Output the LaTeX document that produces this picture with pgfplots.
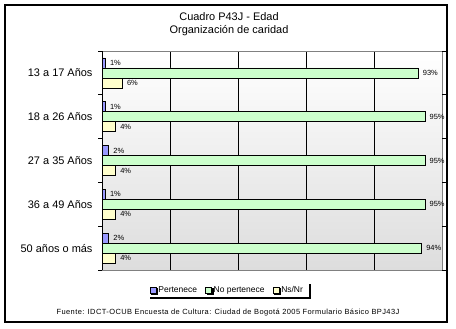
\documentclass[border=0pt]{standalone}
\usepackage{pgfplots}
\pgfplotsset{compat=1.18}
\usepackage{fontspec}
\setmainfont{Liberation Sans}
\usetikzlibrary{shadows}
\definecolor{cblue}{RGB}{153,153,255}
\definecolor{cgreen}{RGB}{204,255,204}
\definecolor{cyellow}{RGB}{255,255,204}
\definecolor{bgbot}{RGB}{221,221,221}
\begin{document}
\begin{tikzpicture}[x=1bp,y=1bp]
\useasboundingbox (0,0) rectangle (456,-328);
\fill[white] (0,0) rectangle (456,-328);
\draw[line width=1.2bp] (5,-5) rectangle (447,-322);
\node[font=\fontsize{11}{13.5}\selectfont, align=center] at (229,-24) {Cuadro P43J - Edad\\Organización de caridad};
\begin{axis}[
  at={(102bp,-270bp)}, anchor=south west,
  scale only axis, width=340bp, height=219bp,
  xbar=0pt, bar width=10bp,
  legend image code/.code={\draw[#1] (0bp,-3bp) rectangle (6bp,3bp);},
  xmin=0, xmax=100, ymin=-0.5, ymax=4.5,
  xtick={0,20,...,100}, xticklabels={},
  major tick length=0pt,
  xmajorgrids, grid style={black, line width=0.7bp},
  axis line style={draw={rgb,255:red,128;green,128;blue,128}, line width=0.9bp},
  axis background/.style={top color=white, bottom color=bgbot},
  ytick={0,...,4},
  yticklabels={50 años o más, 36 a 49 Años, 27 a 35 Años, 18 a 26 Años, 13 a 17 Años},
  yticklabel style={font=\fontsize{11}{13}\selectfont, xshift=-6bp},
  extra y ticks={-0.5,0.5,...,4.5}, extra y tick labels={},
  extra y tick style={major tick length=4bp, tick align=outside, tick style={black, line width=0.8bp}},
  point meta=x,
  /pgf/number format/assume math mode=true,
  nodes near coords={\pgfmathprintnumber{\pgfplotspointmeta}\%},
  every node near coord/.append style={font=\fontsize{7.5}{8}\selectfont, anchor=west, xshift=1bp},
  legend columns=3,
  legend style={at={(0.373,-0.091)}, anchor=center, draw=none, fill=white,
    drop shadow={shadow xshift=1.5bp, shadow yshift=-1.5bp, fill=black, opacity=1},
    font=\fontsize{8.5}{9}\selectfont, inner sep=1.5bp},
]
\addplot[draw=black, line width=0.7bp, fill=cblue, bar shift=10bp] coordinates {(1,4) (1,3) (2,2) (1,1) (2,0)};
\addplot[draw=black, line width=0.7bp, fill=cgreen, bar shift=0bp] coordinates {(93,4) (95,3) (95,2) (95,1) (94,0)};
\addplot[draw=black, line width=0.7bp, fill=cyellow, bar shift=-10bp] coordinates {(6,4) (4,3) (4,2) (4,1) (4,0)};
\legend{Pertenece\rule{6bp}{0pt}, No pertenece\rule{6bp}{0pt}, Ns/Nr\rule{3bp}{0pt}}
\draw[black, line width=0.8bp] (rel axis cs:0,0) -- (rel axis cs:0,1);
\end{axis}
\node[font=\fontsize{7.5}{8}\selectfont\addfontfeature{LetterSpace=5.5}] at (228,-313) {Fuente: IDCT-OCUB Encuesta de Cultura: Ciudad de Bogotá 2005 Formulario Básico BPJ43J};
\end{tikzpicture}
\end{document}
